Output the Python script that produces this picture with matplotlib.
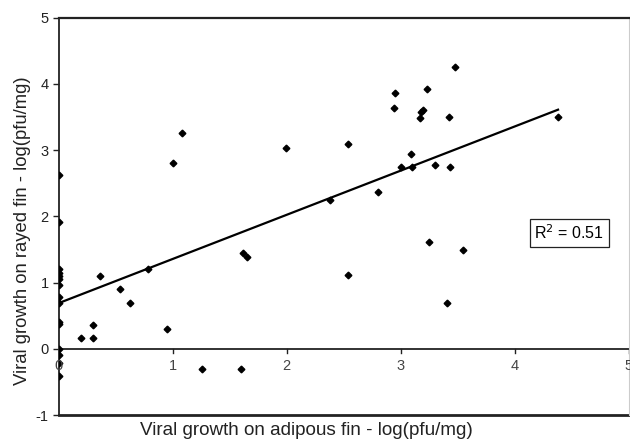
import matplotlib
matplotlib.use("Agg")
import matplotlib.pyplot as plt
import numpy as np

plt.rcParams["font.family"] = ["Liberation Sans", "DejaVu Sans"]
plt.rcParams["axes.unicode_minus"] = False

# adipous fin (x) vs rayed fin (y), log(pfu/mg)
adipous = [0, 0, 0, 0, 0, 0, 0, 0, 0, 0, 0, 0, 0, 0, 0,
           0.20, 0.30, 0.30, 0.36, 0.54, 0.63, 0.78, 0.95, 1.00, 1.08,
           1.26, 1.60, 1.62, 1.65, 1.99, 2.38, 2.54, 2.54, 2.80,
           2.94, 2.95, 3.00, 3.09, 3.10, 3.17, 3.18, 3.20, 3.23, 3.25,
           3.30, 3.41, 3.42, 3.43, 3.48, 3.55, 4.38]
rayed = [2.63, 1.92, 1.20, 1.15, 1.10, 1.05, 0.97, 0.79, 0.69, 0.40, 0.37,
         0.0, -0.10, -0.22, -0.41,
         0.17, 0.17, 0.36, 1.10, 0.90, 0.70, 1.21, 0.30, 2.81, 3.26,
         -0.31, -0.31, 1.45, 1.38, 3.04, 2.25, 3.09, 1.12, 2.37,
         3.63, 3.87, 2.75, 2.94, 2.74, 3.48, 3.57, 3.61, 3.92, 1.62,
         2.77, 0.70, 3.50, 2.74, 4.26, 1.50, 3.50]

# trendline
intercept = 0.69
slope = 0.667
r2 = 0.51

fig = plt.figure(figsize=(6.3, 4.43), dpi=100)
ax = fig.add_axes([0.093, 0.063, 0.905, 0.897])

ax.plot(adipous, rayed, "kD", ms=3.4, zorder=3)
xf = np.array([0, max(adipous)])
ax.plot(xf, intercept + slope * xf, "k-", lw=1.6, zorder=2)

ax.set_xlim(0, 5)
ax.set_ylim(-1, 5)
ax.set_xticks(range(0, 6))
ax.set_yticks(range(-1, 6))

# x axis crosses at y=0
ax.spines["bottom"].set_visible(False)
ax.spines["top"].set_color("#222222")
ax.spines["top"].set_linewidth(1.6)
ax.spines["left"].set_color("#222222")
ax.spines["left"].set_linewidth(1.3)
ax.spines["right"].set_color("#cccccc")
ax.axhline(0, color="#222222", lw=1.3, zorder=1)
ax.axhline(-1, color="#222222", lw=2.0, zorder=1, clip_on=False)

ax.tick_params(axis="y", direction="out", length=4, width=1, labelsize=10.5,
               colors="#222222", pad=3)
ax.tick_params(axis="x", bottom=False, labelbottom=False)
for xv in range(1, 6):
    ax.plot([xv, xv], [0, -0.06], color="#222222", lw=1, clip_on=False)
for xv in range(0, 6):
    ax.text(xv, -0.15, str(xv), ha="center", va="top", fontsize=10.5,
            color="#444444")

ax.text(4.48, 1.75, "R$^2$ = 0.51", ha="center", va="center", fontsize=11.5,
        bbox=dict(boxstyle="square,pad=0.3", fc="white", ec="#222222", lw=0.9))

fig.text(0.487, 0.028, "Viral growth on adipous fin - log(pfu/mg)", ha="center",
         va="center", fontsize=13.6, color="#222222")
fig.text(0.036, 0.48, "Viral growth on rayed fin - log(pfu/mg)", ha="center",
         va="center", rotation=90, fontsize=13.3, color="#222222")

fig.savefig("out.png", dpi=100)
